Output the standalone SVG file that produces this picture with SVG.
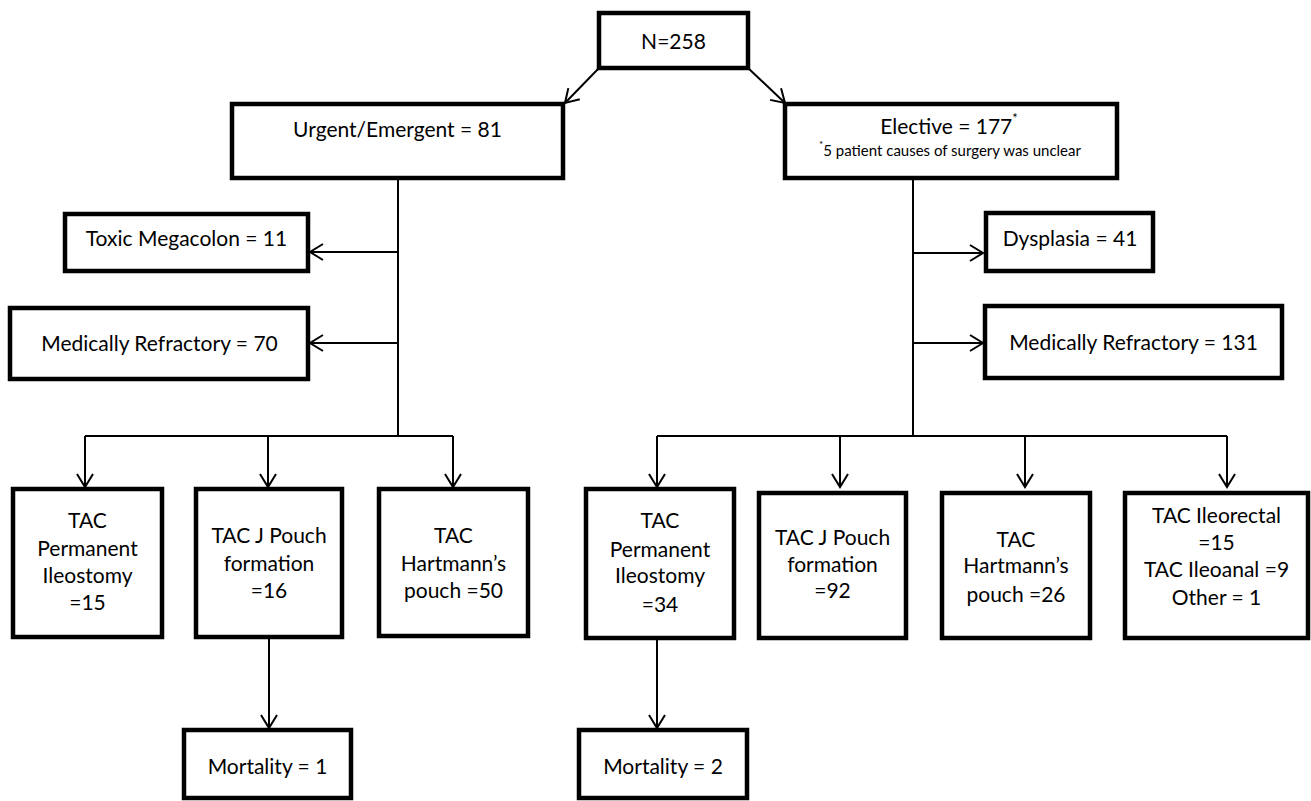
<svg xmlns="http://www.w3.org/2000/svg" width="1311" height="801" viewBox="0 0 1311 801">
<style>
.box{fill:#fff;stroke:#000;stroke-width:4.5}
.t{font-family:Lato,"Open Sans","Liberation Sans",sans-serif;font-size:21px;fill:#000;text-anchor:middle}
.s{font-family:Lato,"Open Sans","Liberation Sans",sans-serif;font-size:15px;fill:#000}
.c{fill:none;stroke:#000;stroke-width:2}
</style>
<defs>
<marker id="ah" viewBox="-15 -10 17 20" refX="0" refY="0" markerWidth="17" markerHeight="20" markerUnits="userSpaceOnUse" orient="auto">
<path d="M-13,-8 L0,0 L-13,8" fill="none" stroke="#000" stroke-width="2"/>
</marker>
</defs>
<rect width="1311" height="801" fill="#fff"/>
<g id="connectors">
<line class="c" x1="599" y1="68" x2="565" y2="103" marker-end="url(#ah)"/>
<line class="c" x1="748" y1="68" x2="785" y2="103" marker-end="url(#ah)"/>
<polyline class="c" points="398,180 398,436"/>
<line class="c" x1="398" y1="252" x2="310" y2="252" marker-end="url(#ah)"/>
<line class="c" x1="398" y1="343" x2="310" y2="343" marker-end="url(#ah)"/>
<polyline class="c" points="85,436 453,436"/>
<line class="c" x1="85" y1="436" x2="85" y2="487" marker-end="url(#ah)"/>
<line class="c" x1="268" y1="436" x2="268" y2="487" marker-end="url(#ah)"/>
<line class="c" x1="453" y1="436" x2="453" y2="487" marker-end="url(#ah)"/>
<polyline class="c" points="913,180 913,436"/>
<line class="c" x1="913" y1="253" x2="983" y2="253" marker-end="url(#ah)"/>
<line class="c" x1="913" y1="343" x2="983" y2="343" marker-end="url(#ah)"/>
<polyline class="c" points="657,436 1227,436"/>
<line class="c" x1="657" y1="436" x2="657" y2="487" marker-end="url(#ah)"/>
<line class="c" x1="840" y1="436" x2="840" y2="487" marker-end="url(#ah)"/>
<line class="c" x1="1025" y1="436" x2="1025" y2="487" marker-end="url(#ah)"/>
<line class="c" x1="1227" y1="436" x2="1227" y2="487" marker-end="url(#ah)"/>
<line class="c" x1="269" y1="639" x2="269" y2="728" marker-end="url(#ah)"/>
<line class="c" x1="657" y1="640" x2="657" y2="728" marker-end="url(#ah)"/>
</g>
<g id="n258">
<rect class="box" x="599" y="13" width="149" height="55"/>
<text class="t" x="673.5" y="49">N=258</text>
</g>
<g id="urgent">
<rect class="box" x="232" y="104" width="331" height="74"/>
<text class="t" x="397.5" y="137">Urgent/Emergent = 81</text>
</g>
<g id="elective">
<rect class="box" x="785" y="104" width="332" height="74"/>
<text class="t" x="949" y="134">Elective = 177<tspan font-size="13" dy="-11">*</tspan></text>
<text class="s" x="819" y="156"><tspan font-size="10" dy="-8">*</tspan><tspan dy="8">5 patient causes of surgery was unclear</tspan></text>
</g>
<g id="toxic">
<rect class="box" x="65" y="214" width="243" height="57"/>
<text class="t" x="186.5" y="246">Toxic Megacolon = 11</text>
</g>
<g id="medref70">
<rect class="box" x="10" y="308" width="298" height="71"/>
<text class="t" x="159.5" y="351">Medically Refractory = 70</text>
</g>
<g id="dysplasia">
<rect class="box" x="986" y="213" width="167" height="58"/>
<text class="t" x="1070" y="246">Dysplasia = 41</text>
</g>
<g id="medref131">
<rect class="box" x="985" y="306" width="297" height="72"/>
<text class="t" x="1133.5" y="350">Medically Refractory = 131</text>
</g>
<g id="l1">
<rect class="box" x="13" y="489" width="149" height="148"/>
<text class="t" x="87.5" y="528">TAC</text>
<text class="t" x="87.5" y="556">Permanent</text>
<text class="t" x="87.5" y="583">Ileostomy</text>
<text class="t" x="87.5" y="610">=15</text>
</g>
<g id="l2">
<rect class="box" x="196" y="489" width="146" height="148"/>
<text class="t" x="269" y="543">TAC J Pouch</text>
<text class="t" x="269" y="571">formation</text>
<text class="t" x="269" y="598">=16</text>
</g>
<g id="l3">
<rect class="box" x="379" y="489" width="149" height="147"/>
<text class="t" x="453.5" y="543">TAC</text>
<text class="t" x="453.5" y="571">Hartmann’s</text>
<text class="t" x="453.5" y="598">pouch =50</text>
</g>
<g id="r1">
<rect class="box" x="586" y="489" width="148" height="149"/>
<text class="t" x="660" y="528">TAC</text>
<text class="t" x="660" y="557">Permanent</text>
<text class="t" x="660" y="583">Ileostomy</text>
<text class="t" x="660" y="612">=34</text>
</g>
<g id="r2">
<rect class="box" x="759" y="493" width="147" height="145"/>
<text class="t" x="832.5" y="545">TAC J Pouch</text>
<text class="t" x="832.5" y="572">formation</text>
<text class="t" x="832.5" y="598">=92</text>
</g>
<g id="r3">
<rect class="box" x="942" y="493" width="148" height="145"/>
<text class="t" x="1016" y="547">TAC</text>
<text class="t" x="1016" y="573">Hartmann’s</text>
<text class="t" x="1016" y="602">pouch =26</text>
</g>
<g id="r4">
<rect class="box" x="1125" y="493" width="183" height="145"/>
<text class="t" x="1216.5" y="523">TAC Ileorectal</text>
<text class="t" x="1216.5" y="550">=15</text>
<text class="t" x="1216.5" y="577">TAC Ileoanal =9</text>
<text class="t" x="1216.5" y="605">Other = 1</text>
</g>
<g id="mort1">
<rect class="box" x="184" y="730" width="167" height="68"/>
<text class="t" x="267.5" y="774">Mortality = 1</text>
</g>
<g id="mort2">
<rect class="box" x="579" y="730" width="168" height="68"/>
<text class="t" x="663" y="774">Mortality = 2</text>
</g>
</svg>
